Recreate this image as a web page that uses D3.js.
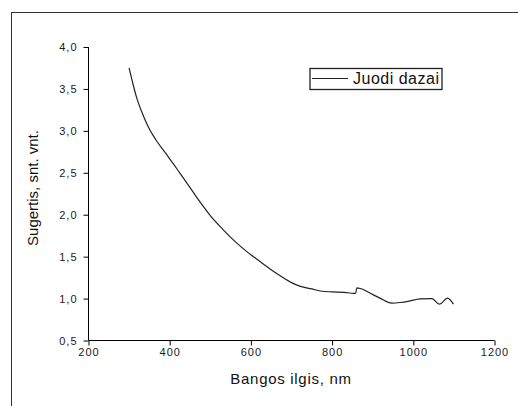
<!DOCTYPE html>
<html>
<head>
<meta charset="utf-8">
<script src="https://cdn.jsdelivr.net/npm/d3@7"></script>
<style>
  body { margin: 0; background: #fff; }
  svg { display: block; font-family: "Liberation Sans", Arial, sans-serif; }
</style>
</head>
<body>
<svg id="chart" width="518" height="406"></svg>
<script>
// wavelength (nm) and absorbance
var wavelength = [300, 310, 319, 335, 348, 365, 389, 410, 426, 442, 475, 500, 532, 560, 590, 620, 648, 673, 700, 722, 750, 771, 800, 830, 853, 858, 861, 870, 894, 918, 947, 968, 990, 1017, 1046, 1064, 1068, 1084, 1099];
var absorb = [3.75, 3.55, 3.39, 3.18, 3.04, 2.90, 2.74, 2.60, 2.49, 2.38, 2.15, 1.99, 1.82, 1.685, 1.56, 1.45, 1.35, 1.27, 1.19, 1.145, 1.115, 1.09, 1.08, 1.075, 1.063, 1.065, 1.128, 1.12, 1.063, 1.005, 0.945, 0.953, 0.97, 0.997, 1.0, 0.933, 0.94, 1.005, 0.933];
var xTicks = [200, 400, 600, 800, 1000, 1200];
var yTicks = [0.5, 1.0, 1.5, 2.0, 2.5, 3.0, 3.5, 4.0];
var seriesName = "Juodi dazai";

var svg = d3.select("#chart");

// outer frame, cut off on the right and bottom
svg.append("rect")
    .attr("x", 11.5)
    .attr("y", 12.5)
    .attr("width", 530)
    .attr("height", 420)
    .attr("fill", "none")
    .attr("stroke", "#333")
    .attr("stroke-width", 1);

var x = d3.scaleLinear().domain([200, 1200]).range([88.5, 494.5]);
var y = d3.scaleLinear().domain([0.5, 4.0]).range([340.5, 47]);

// minor ticks, then major ticks with labels
var gx = svg.append("g").attr("transform", "translate(0,340.5)");
gx.call(d3.axisBottom(x).tickValues(d3.range(300, 1200, 200)).tickSize(3).tickFormat(""));
gx.call(d3.axisBottom(x).tickValues(xTicks).tickSize(5).tickPadding(3)
    .tickFormat(function (d) { return d; }));
gx.selectAll(".domain").attr("d", "M88.5,0H494.5");

var gy = svg.append("g").attr("transform", "translate(88.5,0)");
gy.call(d3.axisLeft(y).tickValues(d3.range(0.75, 4.0, 0.5)).tickSize(3).tickFormat(""));
gy.call(d3.axisLeft(y).tickValues(yTicks).tickSize(5).tickPadding(6)
    .tickFormat(function (d) { return d3.format(".1f")(d).replace(".", ","); }));
gy.selectAll(".domain").attr("d", "M0,340.5V47");

svg.selectAll(".tick line").attr("stroke", "#000");
svg.selectAll(".domain").attr("stroke", "#000");
svg.selectAll(".tick text")
    .attr("fill", "#1a1a1a")
    .attr("font-size", 11)
    .attr("letter-spacing", "1px")
    .attr("font-family", "Liberation Sans, Arial, sans-serif");

// axis titles
svg.append("text")
    .attr("x", 291)
    .attr("y", 384)
    .attr("text-anchor", "middle")
    .attr("font-size", 15)
    .attr("letter-spacing", "0.7px")
    .attr("fill", "#111")
    .text("Bangos ilgis, nm");

svg.append("text")
    .attr("transform", "translate(38,188) rotate(-90)")
    .attr("text-anchor", "middle")
    .attr("font-size", 15)
    .attr("fill", "#111")
    .text("Sugertis, snt. vnt.");

// data line
var line = d3.line()
    .x(function (d, i) { return x(wavelength[i]); })
    .y(function (d) { return y(d); })
    .curve(d3.curveMonotoneX);

svg.append("path")
    .datum(absorb)
    .attr("d", line)
    .attr("fill", "none")
    .attr("stroke", "#222")
    .attr("stroke-width", 1.2);

// legend
var lg = svg.append("g");
lg.append("rect")
    .attr("x", 310)
    .attr("y", 68.5)
    .attr("width", 132)
    .attr("height", 21)
    .attr("fill", "#fff")
    .attr("stroke", "#222")
    .attr("stroke-width", 1.3);
lg.append("line")
    .attr("x1", 312)
    .attr("x2", 348)
    .attr("y1", 78.5)
    .attr("y2", 78.5)
    .attr("stroke", "#222")
    .attr("stroke-width", 1.2);
lg.append("text")
    .attr("x", 353)
    .attr("y", 84)
    .attr("font-size", 16)
    .attr("letter-spacing", "0.5px")
    .attr("fill", "#111")
    .text(seriesName);
</script>
</body>
</html>
